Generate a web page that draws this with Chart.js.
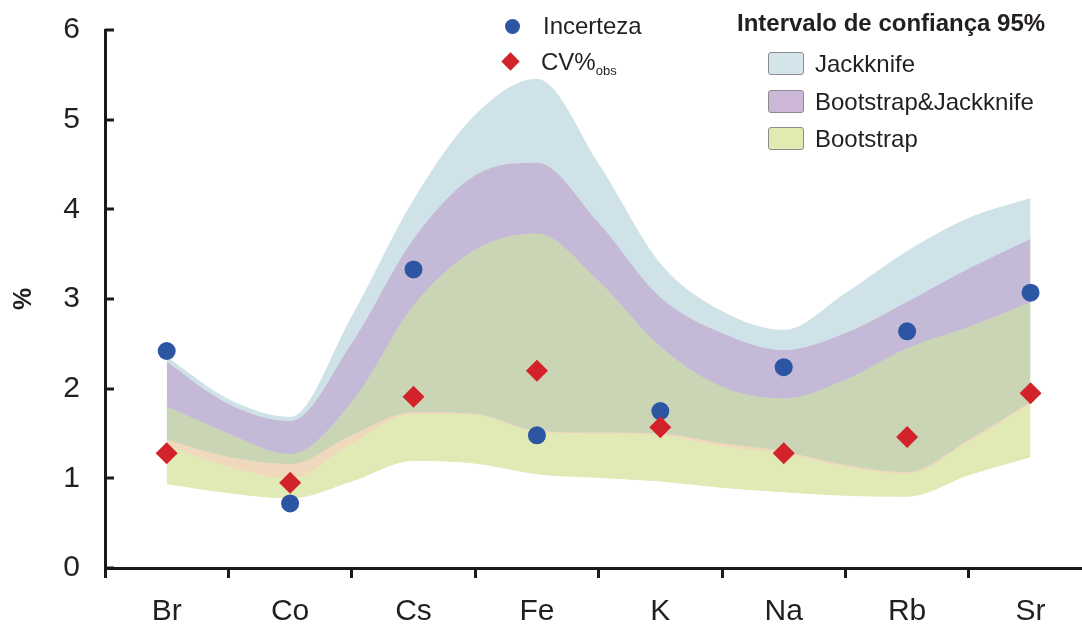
<!DOCTYPE html>
<html>
<head>
<meta charset="utf-8">
<script src="https://cdn.jsdelivr.net/npm/chart.js@4"></script>
<style>
  html, body { margin: 0; padding: 0; background: #ffffff; }
  #wrap { position: relative; width: 1082px; height: 628px; overflow: hidden; }
  #chart { position: absolute; left: 0; top: 0; }
  .lg { position: absolute; font-family: "Liberation Sans", Arial, sans-serif; font-size: 24px; line-height: 24px; color: #231f20; white-space: nowrap; }
  .lg sub { font-size: 13px; vertical-align: baseline; position: relative; top: 5px; }
  .ttl { font-weight: bold; }
  .sw { position: absolute; width: 36px; height: 23px; box-sizing: border-box; border: 1.5px solid #8c8c8c; border-radius: 3px; }
  .mk-c { position: absolute; width: 15px; height: 15px; border-radius: 50%; background: #2c55a4; }
  .mk-d { position: absolute; width: 13px; height: 13px; background: #d2232a; transform: rotate(45deg); }
</style>
</head>
<body>
<div id="wrap">
  <canvas id="chart" width="1082" height="628"></canvas>
  <div class="mk-c" style="left:505px; top:19px;"></div>
  <div class="lg" style="left:543px; top:14px;">Incerteza</div>
  <div class="mk-d" style="left:504px; top:55px;"></div>
  <div class="lg" style="left:541px; top:50px;">CV%<sub>obs</sub></div>
  <div class="lg ttl" style="left:737px; top:11px;">Intervalo de confiança 95%</div>
  <div class="sw" style="left:768px; top:52px; background:#d3e5ea;"></div>
  <div class="lg" style="left:815px; top:52px;">Jackknife</div>
  <div class="sw" style="left:768px; top:90px; background:#cdb7d6;"></div>
  <div class="lg" style="left:815px; top:90px;">Bootstrap&amp;Jackknife</div>
  <div class="sw" style="left:768px; top:127px; background:#e2eab2;"></div>
  <div class="lg" style="left:815px; top:127px;">Bootstrap</div>
</div>
<script>
// ---- data ----
const categories = ['Br', 'Co', 'Cs', 'Fe', 'K', 'Na', 'Rb', 'Sr'];
const incerteza = [2.42, 0.72, 3.33, 1.48, 1.75, 2.24, 2.64, 3.07];
const cvObs = [1.28, 0.95, 1.91, 2.20, 1.57, 1.28, 1.46, 1.95];
const yTickValues = [0, 1, 2, 3, 4, 5, 6];

// band boundaries read at each category and half-way between categories
const bandSteps = [0, 0.5, 1, 1.5, 2, 2.5, 3, 3.5, 4, 4.5, 5, 5.5, 6, 6.5, 7];
const jackknifeTop = [2.35, 1.88, 1.68, 2.80, 4.10, 5.05, 5.45, 4.50, 3.39, 2.86, 2.65, 3.06, 3.53, 3.90, 4.12];
const bootJackTop  = [2.30, 1.83, 1.64, 2.51, 3.67, 4.38, 4.52, 3.85, 3.02, 2.62, 2.43, 2.62, 2.97, 3.34, 3.67];
const overlapTop   = [1.80, 1.50, 1.27, 1.85, 2.93, 3.55, 3.73, 3.20, 2.47, 2.02, 1.89, 2.10, 2.45, 2.69, 2.96];
const overlapLow   = [1.43, 1.24, 1.16, 1.48, 1.74, 1.72, 1.53, 1.51, 1.50, 1.39, 1.30, 1.15, 1.07, 1.43, 1.85];
const bootstrapTop = [1.37, 1.13, 1.00, 1.39, 1.72, 1.71, 1.52, 1.50, 1.48, 1.36, 1.27, 1.13, 1.05, 1.41, 1.83];
const bootstrapLow = [0.94, 0.84, 0.78, 0.97, 1.20, 1.17, 1.05, 1.01, 0.97, 0.90, 0.85, 0.81, 0.80, 1.04, 1.24];

// ---- styles ----
const FONT = 'Liberation Sans';
const AXIS = '#1a1a1a';
const TXT = '#231f20';
const C_JACK = '#cfe2e8';
const C_BJ = '#c4b9d6';
const C_OVER = '#cad5b6';
const C_EDGE = '#efd8bb';
const C_BOOT = '#e1e9b5';

const toXY = (vals, xs) => vals.map((v, i) => ({ x: xs[i], y: v }));
const catX = categories.map((_, i) => i);

function band(label, vals, color, fillNext, lineColor) {
  return {
    label, data: toXY(vals, bandSteps),
    borderColor: lineColor || color, backgroundColor: color, borderWidth: 1,
    pointRadius: 0, fill: fillNext ? '+1' : false,
    cubicInterpolationMode: 'monotone'
  };
}

const inwardTicks = {
  id: 'inwardTicks',
  afterDraw(chart) {
    const { ctx, chartArea, scales } = chart;
    const y = scales.y;
    ctx.save();
    ctx.strokeStyle = AXIS;
    ctx.lineWidth = 3;
    y.ticks.forEach(t => {
      const py = Math.round(y.getPixelForValue(t.value));
      ctx.beginPath();
      ctx.moveTo(chartArea.left, py);
      ctx.lineTo(chartArea.left + 9, py);
      ctx.stroke();
    });
    ctx.restore();
  }
};

Chart.defaults.font.family = FONT;

new Chart(document.getElementById('chart'), {
  type: 'line',
  data: {
    datasets: [
      { label: 'CV%obs', data: toXY(cvObs, catX), showLine: false, fill: false,
        pointStyle: 'rectRot', pointRadius: 11, pointBackgroundColor: '#d2232a', pointBorderWidth: 0 },
      { label: 'Incerteza', data: toXY(incerteza, catX), showLine: false, fill: false,
        pointStyle: 'circle', pointRadius: 9, pointBackgroundColor: '#2c55a4', pointBorderWidth: 0 },
      band('Jackknife', jackknifeTop, C_JACK, true),
      band('Bootstrap&Jackknife', bootJackTop, C_BJ, true),
      band('Sobreposição', overlapTop, C_OVER, true),
      band('Borda', overlapLow, C_EDGE, true),
      band('Bootstrap', bootstrapTop, C_BOOT, true),
      band('Bootstrap (inferior)', bootstrapLow, C_BOOT, false, C_BOOT)
    ]
  },
  options: {
    responsive: false,
    animation: false,
    devicePixelRatio: 1,
    layout: { autoPadding: false, padding: { top: 30, right: 0, left: 0, bottom: 0 } },
    plugins: { legend: { display: false }, tooltip: { enabled: false } },
    scales: {
      x: {
        type: 'linear',
        min: -0.5,
        max: 7.417,
        afterBuildTicks: s => {
          const t = [];
          categories.forEach((_, i) => { t.push({ value: i - 0.5 }); t.push({ value: i }); });
          s.ticks = t;
        },
        afterFit: s => { s.height = 60; s.paddingLeft = 0; s.paddingRight = 0; },
        ticks: {
          autoSkip: false, maxRotation: 0, padding: 16,
          color: TXT, font: { size: 30 },
          callback: v => Number.isInteger(v) ? categories[v] : ''
        },
        grid: {
          display: true, drawOnChartArea: false, drawTicks: true, tickLength: 10, lineWidth: 3,
          color: c => (c.tick && Math.abs((c.tick.value * 2) % 2) === 1) ? AXIS : 'rgba(0,0,0,0)'
        },
        border: { display: true, width: 3, color: AXIS }
      },
      y: {
        min: 0, max: 6,
        afterBuildTicks: s => { s.ticks = yTickValues.map(v => ({ value: v })); },
        afterFit: s => { s.width = 105; s.paddingTop = 0; s.paddingBottom = 0; },
        ticks: { padding: 25, color: TXT, font: { size: 30 } },
        grid: { display: true, drawOnChartArea: false, drawTicks: false, color: 'rgba(0,0,0,0)' },
        border: { display: true, width: 3, color: AXIS },
        title: { display: true, text: '%', color: TXT, font: { size: 25, weight: 'bold' }, padding: { top: 9, bottom: 0 } }
      }
    }
  },
  plugins: [inwardTicks]
});
</script>
</body>
</html>
